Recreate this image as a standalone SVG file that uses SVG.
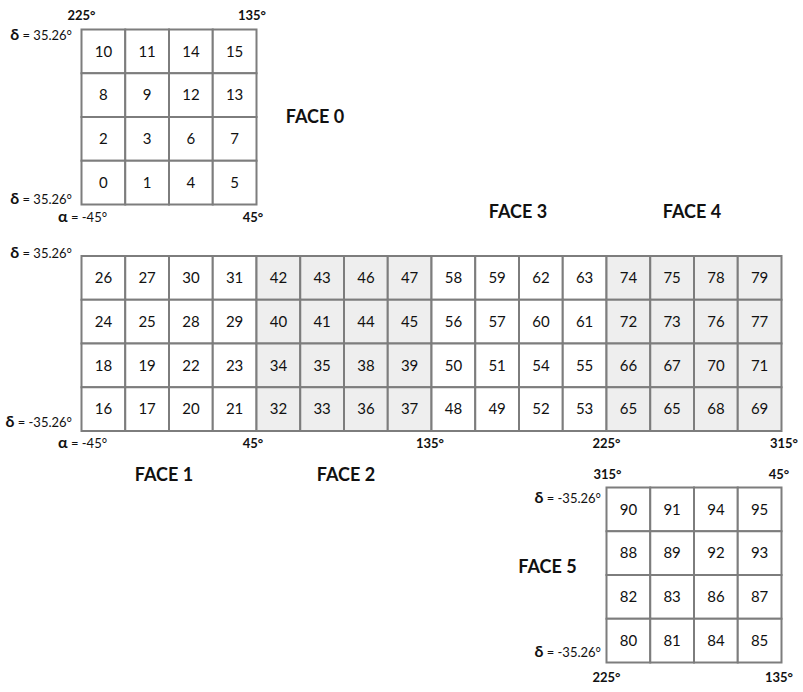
<svg xmlns="http://www.w3.org/2000/svg" width="803" height="692" viewBox="0 0 803 692">
<style>
.c{fill:#fff;stroke:#7d7d7d;stroke-width:2}
.s{fill:#eeeeee;stroke:#7d7d7d;stroke-width:2}
.n{font-family:Lato,"Open Sans","DejaVu Sans",sans-serif;font-size:15px;fill:#111;text-anchor:middle}
.f{font-family:Lato,"Open Sans","DejaVu Sans",sans-serif;font-size:18px;font-weight:bold;fill:#111;text-anchor:middle}
.a{font-family:Lato,"Open Sans","DejaVu Sans",sans-serif;font-size:13px;font-weight:bold;fill:#111;text-anchor:middle}
.d{font-family:Lato,"Open Sans","DejaVu Sans",sans-serif;font-size:13px;fill:#111;text-anchor:end}
.g{font-weight:bold;font-size:16px}
</style>
<rect width="803" height="692" fill="#fff"/>
<defs>
<g id="row4c"><rect class="c" x="0" y="0" width="43.75" height="43.75"/><rect class="c" x="43.75" y="0" width="43.75" height="43.75"/><rect class="c" x="87.5" y="0" width="43.75" height="43.75"/><rect class="c" x="131.25" y="0" width="43.75" height="43.75"/></g>
<g id="row4s"><rect class="s" x="0" y="0" width="43.75" height="43.75"/><rect class="s" x="43.75" y="0" width="43.75" height="43.75"/><rect class="s" x="87.5" y="0" width="43.75" height="43.75"/><rect class="s" x="131.25" y="0" width="43.75" height="43.75"/></g>
<g id="blkc"><use href="#row4c" y="0"/><use href="#row4c" y="43.75"/><use href="#row4c" y="87.5"/><use href="#row4c" y="131.25"/></g>
<g id="blks"><use href="#row4s" y="0"/><use href="#row4s" y="43.75"/><use href="#row4s" y="87.5"/><use href="#row4s" y="131.25"/></g>
</defs>

<g id="face0">
<use href="#blkc" x="81.5" y="29.5"/>
<g class="n">
<text x="103.4" y="56.5">10</text><text x="147.1" y="56.5">11</text><text x="190.9" y="56.5">14</text><text x="234.6" y="56.5">15</text>
<text x="103.4" y="100.2">8</text><text x="147.1" y="100.2">9</text><text x="190.9" y="100.2">12</text><text x="234.6" y="100.2">13</text>
<text x="103.4" y="144">2</text><text x="147.1" y="144">3</text><text x="190.9" y="144">6</text><text x="234.6" y="144">7</text>
<text x="103.4" y="187.7">0</text><text x="147.1" y="187.7">1</text><text x="190.9" y="187.7">4</text><text x="234.6" y="187.7">5</text>
</g>
<text class="a" x="81.5" y="20">225°</text>
<text class="a" x="252" y="20">135°</text>
<text class="d" x="72" y="40"><tspan class="g">δ</tspan> = 35.26°</text>
<text class="d" x="72" y="204"><tspan class="g">δ</tspan> = 35.26°</text>
<text class="a" x="82.5" y="222"><tspan class="g">α</tspan><tspan font-weight="normal"> = -45°</tspan></text>
<text class="a" x="253" y="222">45°</text>
<text class="f" x="315" y="123">FACE 0</text>
</g>

<g id="face1">
<use href="#blkc" x="81.5" y="256"/>
<g class="n">
<text x="103.4" y="283">26</text><text x="147.1" y="283">27</text><text x="190.9" y="283">30</text><text x="234.6" y="283">31</text>
<text x="103.4" y="326.7">24</text><text x="147.1" y="326.7">25</text><text x="190.9" y="326.7">28</text><text x="234.6" y="326.7">29</text>
<text x="103.4" y="370.5">18</text><text x="147.1" y="370.5">19</text><text x="190.9" y="370.5">22</text><text x="234.6" y="370.5">23</text>
<text x="103.4" y="414.2">16</text><text x="147.1" y="414.2">17</text><text x="190.9" y="414.2">20</text><text x="234.6" y="414.2">21</text>
</g>
<text class="d" x="72" y="258"><tspan class="g">δ</tspan> = 35.26°</text>
<text class="d" x="72" y="427"><tspan class="g">δ</tspan> = -35.26°</text>
<text class="a" x="82.5" y="448"><tspan class="g">α</tspan><tspan font-weight="normal"> = -45°</tspan></text>
<text class="a" x="253" y="448">45°</text>
<text class="f" x="164" y="481">FACE 1</text>
</g>

<g id="face2">
<use href="#blks" x="256.5" y="256"/>
<g class="n">
<text x="278.4" y="283">42</text><text x="322.1" y="283">43</text><text x="365.9" y="283">46</text><text x="409.6" y="283">47</text>
<text x="278.4" y="326.7">40</text><text x="322.1" y="326.7">41</text><text x="365.9" y="326.7">44</text><text x="409.6" y="326.7">45</text>
<text x="278.4" y="370.5">34</text><text x="322.1" y="370.5">35</text><text x="365.9" y="370.5">38</text><text x="409.6" y="370.5">39</text>
<text x="278.4" y="414.2">32</text><text x="322.1" y="414.2">33</text><text x="365.9" y="414.2">36</text><text x="409.6" y="414.2">37</text>
</g>
<text class="a" x="430" y="448">135°</text>
<text class="f" x="346" y="481">FACE 2</text>
</g>

<g id="face3">
<use href="#blkc" x="431.5" y="256"/>
<g class="n">
<text x="453.4" y="283">58</text><text x="497.1" y="283">59</text><text x="540.9" y="283">62</text><text x="584.6" y="283">63</text>
<text x="453.4" y="326.7">56</text><text x="497.1" y="326.7">57</text><text x="540.9" y="326.7">60</text><text x="584.6" y="326.7">61</text>
<text x="453.4" y="370.5">50</text><text x="497.1" y="370.5">51</text><text x="540.9" y="370.5">54</text><text x="584.6" y="370.5">55</text>
<text x="453.4" y="414.2">48</text><text x="497.1" y="414.2">49</text><text x="540.9" y="414.2">52</text><text x="584.6" y="414.2">53</text>
</g>
<text class="a" x="606.5" y="448">225°</text>
<text class="f" x="518" y="218">FACE 3</text>
</g>

<g id="face4">
<use href="#blks" x="606.5" y="256"/>
<g class="n">
<text x="628.4" y="283">74</text><text x="672.1" y="283">75</text><text x="715.9" y="283">78</text><text x="759.6" y="283">79</text>
<text x="628.4" y="326.7">72</text><text x="672.1" y="326.7">73</text><text x="715.9" y="326.7">76</text><text x="759.6" y="326.7">77</text>
<text x="628.4" y="370.5">66</text><text x="672.1" y="370.5">67</text><text x="715.9" y="370.5">70</text><text x="759.6" y="370.5">71</text>
<text x="628.4" y="414.2">65</text><text x="672.1" y="414.2">65</text><text x="715.9" y="414.2">68</text><text x="759.6" y="414.2">69</text>
</g>
<text class="a" x="784" y="448">315°</text>
<text class="f" x="692" y="218">FACE 4</text>
</g>

<g id="face5">
<use href="#blkc" x="606.5" y="487.5"/>
<g class="n">
<text x="628.4" y="514.5">90</text><text x="672.1" y="514.5">91</text><text x="715.9" y="514.5">94</text><text x="759.6" y="514.5">95</text>
<text x="628.4" y="558.2">88</text><text x="672.1" y="558.2">89</text><text x="715.9" y="558.2">92</text><text x="759.6" y="558.2">93</text>
<text x="628.4" y="602">82</text><text x="672.1" y="602">83</text><text x="715.9" y="602">86</text><text x="759.6" y="602">87</text>
<text x="628.4" y="645.7">80</text><text x="672.1" y="645.7">81</text><text x="715.9" y="645.7">84</text><text x="759.6" y="645.7">85</text>
</g>
<text class="a" x="607.5" y="479">315°</text>
<text class="a" x="779" y="479">45°</text>
<text class="d" x="601" y="503"><tspan class="g">δ</tspan> = -35.26°</text>
<text class="d" x="601" y="657"><tspan class="g">δ</tspan> = -35.26°</text>
<text class="a" x="606.5" y="682">225°</text>
<text class="a" x="779" y="682">135°</text>
<text class="f" x="547.5" y="573">FACE 5</text>
</g>

<g id="connectors"></g>
</svg>
